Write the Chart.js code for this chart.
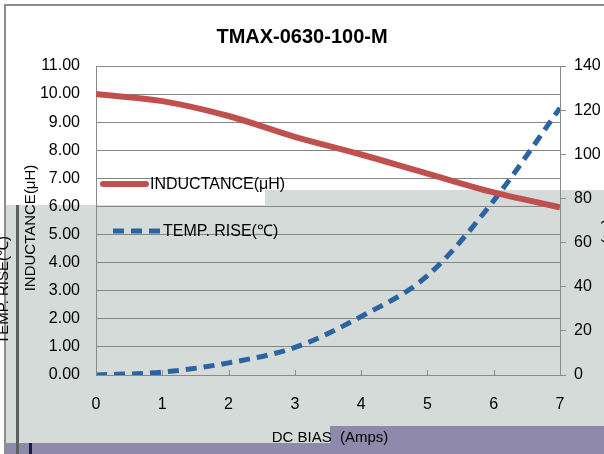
<!DOCTYPE html>
<html>
<head>
<meta charset="utf-8">
<script src="https://cdn.jsdelivr.net/npm/chart.js@4/dist/chart.umd.min.js"></script>
<style>
  html, body { margin: 0; padding: 0; background: #fff; }
  #wrap { position: relative; width: 604px; height: 454px; overflow: hidden; }
  .bg { position: absolute; }
  canvas { position: absolute; left: 0; top: 0; }
</style>
</head>
<body>
<div id="wrap">
  <div class="bg" style="left:4px;top:4px;width:600px;height:450px;border-left:2px solid #8c8c8c;border-top:2px solid #8c8c8c;"></div>
  <div class="bg" style="left:265px;top:190px;width:339px;height:20px;background:#d4dbd8;"></div>
  <div class="bg" style="left:6px;top:205px;width:598px;height:249px;background:#d4dbd8;"></div>
  <div class="bg" style="left:330px;top:426px;width:274px;height:28px;background:#8f89ac;"></div>
  <div class="bg" style="left:6px;top:443px;width:598px;height:11px;background:#8f89ac;"></div>
  <div class="bg" style="left:16px;top:205px;width:3px;height:249px;background:#5b605d;"></div>
  <div class="bg" style="left:29px;top:443px;width:3px;height:11px;background:#1c1a40;"></div>
  <canvas id="chart" width="604" height="454"></canvas>
</div>
<script>
// DC bias (A)
var bias = [0, 1, 2, 3, 4, 5, 6, 7];
// inductance (uH)
var inductance = [10.0, 9.75, 9.22, 8.48, 7.85, 7.17, 6.5, 5.97];
// temperature rise (C)
var tempRise = [0, 1.3, 5.5, 12.5, 26.5, 45, 79, 121];

var leftTicks = [0, 1, 2, 3, 4, 5, 6, 7, 8, 9, 10, 11];
var rightTicks = [0, 20, 40, 60, 80, 100, 120, 140];

var FONT = '"Liberation Sans Narrow", "Liberation Sans", Arial, sans-serif';

function pts( ys ) {
	return bias.map( function ( x, i ) { return { x: x, y: ys[i] }; } );
}

var overlay = {
	id: 'overlay',
	afterDraw: function ( chart ) {
		var ctx = chart.ctx;
		var ds = chart.data.datasets;
		var xs = chart.scales.x;
		ctx.save();
		// small inside ticks on the x axis
		ctx.strokeStyle = '#8a8a8a';
		ctx.lineWidth = 1;
		bias.forEach( function ( v ) {
			var px = Math.round( xs.getPixelForValue( v ) ) + 0.5;
			ctx.beginPath(); ctx.moveTo( px, xs.top ); ctx.lineTo( px, xs.top - 5 ); ctx.stroke();
		} );
		// legend inside plot
		ctx.font = '16px ' + FONT;
		ctx.textBaseline = 'middle';
		ctx.fillStyle = '#000';
		ctx.lineCap = 'round';
		ctx.strokeStyle = ds[0].borderColor;
		ctx.lineWidth = ds[0].borderWidth;
		ctx.beginPath(); ctx.moveTo( 103, 184 ); ctx.lineTo( 146, 184 ); ctx.stroke();
		ctx.fillText( ds[0].label, 150, 185 );
		ctx.strokeStyle = ds[1].borderColor;
		ctx.lineWidth = ds[1].borderWidth;
		ctx.lineCap = 'butt';
		ctx.setLineDash( ds[1].borderDash );
		ctx.beginPath(); ctx.moveTo( 113, 231 ); ctx.lineTo( 162, 231 ); ctx.stroke();
		ctx.setLineDash( [] );
		ctx.fillText( ds[1].label, 163, 232 );

		// axis titles
		ctx.font = '15px ' + FONT;
		ctx.textAlign = 'center';
		ctx.fillText( 'DC BIAS  (Amps)', 330, 438 );
		ctx.save();
		ctx.translate( 31, 228 );
		ctx.rotate( -Math.PI / 2 );
		ctx.fillText( 'INDUCTANCE(μH)', 0, 0 );
		ctx.restore();
		ctx.save();
		ctx.translate( 4, 290 );
		ctx.rotate( -Math.PI / 2 );
		ctx.fillText( 'TEMP. RISE(℃)', 0, 0 );
		ctx.restore();
		ctx.save();
		ctx.translate( 608, 190 );
		ctx.rotate( Math.PI / 2 );
		ctx.fillText( 'TEMP. RISE(℃)', 0, 0 );
		ctx.restore();
		ctx.restore();
	}
};

new Chart( document.getElementById( 'chart' ), {
	type: 'line',
	data: {
		datasets: [
			{
				label: 'INDUCTANCE(μH)',
				data: pts( inductance ),
				yAxisID: 'y',
				borderColor: '#c0504d',
				borderWidth: 6,
				cubicInterpolationMode: 'monotone',
				pointRadius: 0
			},
			{
				label: 'TEMP. RISE(℃)',
				data: pts( tempRise ),
				yAxisID: 'y2',
				borderColor: '#2a64a3',
				borderWidth: 5,
				borderDash: [11, 7],
				cubicInterpolationMode: 'monotone',
				pointRadius: 0
			}
		]
	},
	options: {
		responsive: false,
		animation: false,
		events: [],
		layout: { padding: { top: 0, right: 0, bottom: 0, left: 0 } },
		plugins: {
			legend: { display: false },
			tooltip: { enabled: false },
			title: {
				display: true,
				text: 'TMAX-0630-100-M',
				color: '#000',
				font: { family: FONT, size: 20, weight: 'bold' },
				padding: { top: 25, bottom: 17 }
			}
		},
		scales: {
			x: {
				type: 'linear',
				min: 0,
				max: 7,
				afterBuildTicks: function ( s ) { s.ticks = bias.map( function ( v ) { return { value: v }; } ); },
				afterFit: function ( s ) { s.height = 79; },
				grid: { drawOnChartArea: false, drawTicks: false },
				border: { color: '#8a8a8a' },
				ticks: { color: '#000', padding: 20, font: { family: FONT, size: 16 } }
			},
			y: {
				position: 'left',
				min: 0,
				max: 11,
				afterBuildTicks: function ( s ) { s.ticks = leftTicks.map( function ( v ) { return { value: v }; } ); },
				afterFit: function ( s ) { s.width = 96; },
				grid: { color: '#858585', drawTicks: false },
				border: { color: '#8a8a8a' },
				ticks: {
					color: '#000',
					padding: 16,
					font: { family: FONT, size: 16 },
					callback: function ( v ) { return v.toFixed( 2 ); }
				}
			},
			y2: {
				position: 'right',
				min: 0,
				max: 140,
				afterBuildTicks: function ( s ) { s.ticks = rightTicks.map( function ( v ) { return { value: v }; } ); },
				afterFit: function ( s ) { s.width = 44; },
				grid: { drawOnChartArea: false, drawTicks: true, tickLength: 6, color: '#8a8a8a' },
				border: { color: '#8a8a8a' },
				ticks: { color: '#000', padding: 8, font: { family: FONT, size: 16 } }
			}
		}
	},
	plugins: [overlay]
} );
</script>
</body>
</html>
